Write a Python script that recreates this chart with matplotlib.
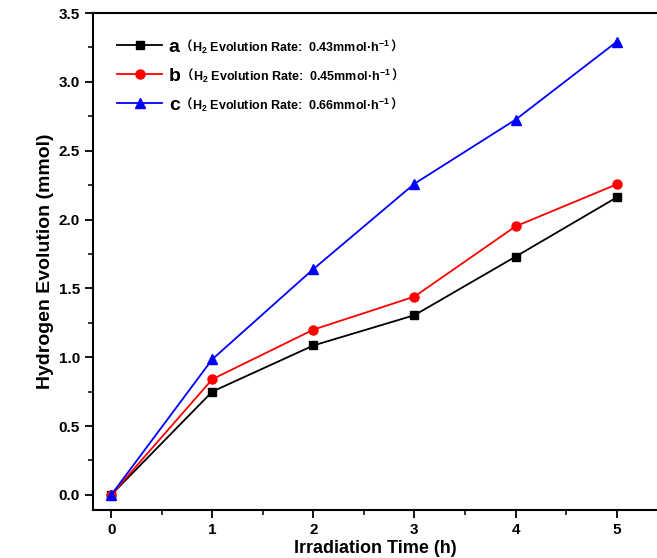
import matplotlib
matplotlib.use("Agg")
import matplotlib.pyplot as plt
from matplotlib.ticker import MultipleLocator, FormatStrFormatter

# data
time_h = [0, 1, 2, 3, 4, 5]
series_a = [0.0, 0.75, 1.085, 1.305, 1.73, 2.16]
series_b = [0.0, 0.84, 1.20, 1.44, 1.95, 2.255]
series_c = [0.0, 0.985, 1.64, 2.26, 2.725, 3.29]
names = ["a", "b", "c"]
rates = ["0.43", "0.45", "0.66"]


def main():
    plt.rcParams["font.family"] = ["Liberation Sans", "Noto Sans CJK SC", "DejaVu Sans"]
    plt.rcParams["font.weight"] = "bold"
    plt.rcParams["mathtext.fontset"] = "custom"
    plt.rcParams["mathtext.rm"] = "Liberation Sans:bold"
    plt.rcParams["mathtext.bf"] = "Liberation Sans:bold"
    plt.rcParams["mathtext.it"] = "Liberation Sans:bold"

    fig = plt.figure(figsize=(6.57, 5.58), dpi=100)
    ax = fig.add_axes([0.1416, 0.086, 0.8584, 0.8907])

    ax.plot(time_h, series_a, color="black", marker="s", markersize=6,
            linewidth=1.3, label=names[0])
    ax.plot(time_h, series_b, color="red", marker="o", markersize=6.5,
            linewidth=1.3, label=names[1])
    ax.plot(time_h, series_c, color="blue", marker="^", markersize=7,
            linewidth=1.3, label=names[2])

    ax.set_xlim(-0.18, 5.4)
    ax.set_ylim(-0.11, 3.5)
    ax.xaxis.set_major_locator(MultipleLocator(1))
    ax.xaxis.set_minor_locator(MultipleLocator(0.5))
    ax.yaxis.set_major_locator(MultipleLocator(0.5))
    ax.yaxis.set_minor_locator(MultipleLocator(0.25))
    ax.yaxis.set_major_formatter(FormatStrFormatter("%.1f"))
    ax.tick_params(which="major", direction="out", length=6, width=1.3,
                   labelsize=11)
    ax.tick_params(which="minor", direction="out", length=3.5, width=1.1)
    ax.spines["right"].set_visible(False)
    for s in ["left", "bottom", "top"]:
        ax.spines[s].set_linewidth(1.5)

    ax.set_xlabel("Irradiation Time (h)", fontsize=13, fontweight="bold",
                  labelpad=2)
    ax.set_ylabel("Hydrogen Evolution (mmol)", fontsize=14, fontweight="bold",
                  labelpad=3)

    leg = ax.legend(loc="upper left", bbox_to_anchor=(0.012, 0.985),
                    frameon=False, fontsize=14, handlelength=2.3,
                    handletextpad=0.35, labelspacing=0.6)
    for t in leg.get_texts():
        t.set_fontweight("bold")

    # rate note after each legend letter
    fig.canvas.draw()
    for t, r in zip(leg.get_texts(), rates):
        p1 = ax.annotate("（", xy=(1, 0.5), xycoords=t, va="center",
                         ha="left", fontsize=9, fontweight="bold",
                         family=["Noto Sans CJK SC"])
        p2 = ax.annotate("H$_2$ Evolution Rate:  " + r + "mmol·h$^{-1}$",
                         xy=(1, 0.5), xycoords=p1, va="center", ha="left",
                         fontsize=9, fontweight="bold")
        ax.annotate("）", xy=(1, 0.5), xycoords=p2, va="center", ha="left",
                    fontsize=9, fontweight="bold",
                    family=["Noto Sans CJK SC"])

    fig.savefig("out.png", dpi=100)
    plt.close(fig)


if __name__ == "__main__":
    main()
